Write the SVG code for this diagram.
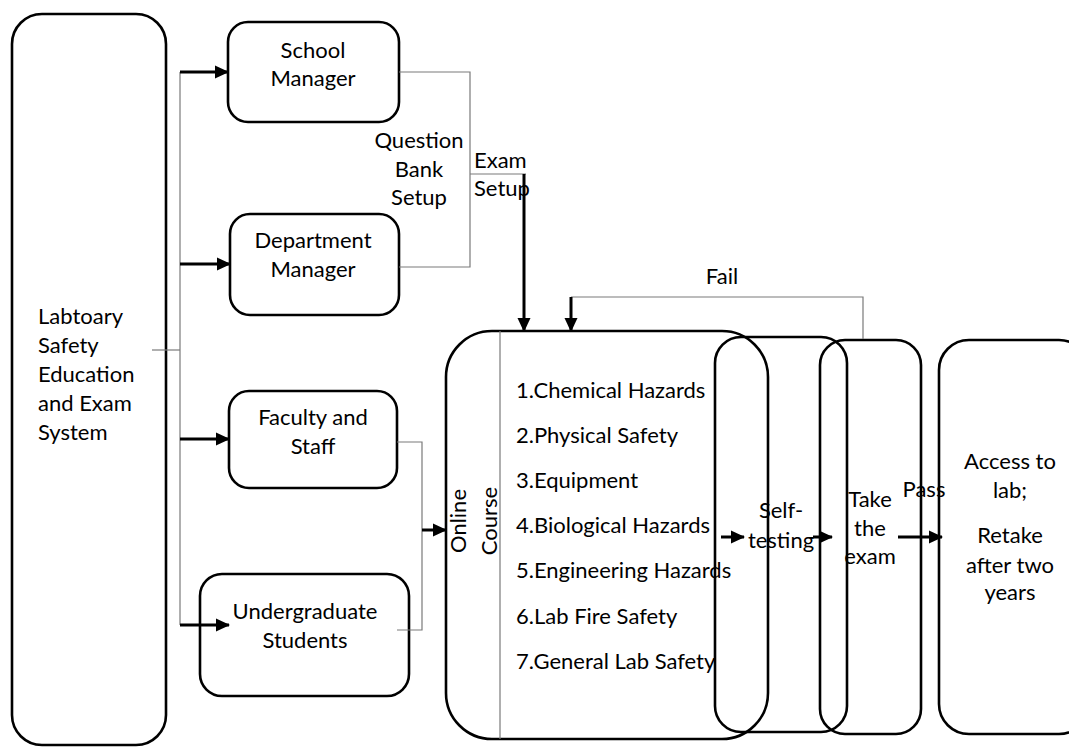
<svg xmlns="http://www.w3.org/2000/svg" width="1069" height="747" viewBox="0 0 1069 747">
<style>
text{font-family:Lato,"Open Sans","Liberation Sans",sans-serif;font-size:22px;fill:#000}
.c{text-anchor:middle}
.box{fill:none;stroke:#000;stroke-width:2.6}
.g{fill:none;stroke:#7a7a7a;stroke-width:1.2}
.a{fill:none;stroke:#000;stroke-width:3}
</style>
<defs>
<marker id="ah" markerUnits="userSpaceOnUse" markerWidth="14" markerHeight="14" refX="13" refY="7" orient="auto">
<path d="M0,0.5 L14,7 L0,13.5 z" fill="#000"/>
</marker>
</defs>
<rect width="1069" height="747" fill="#fff"/>
<g id="system">
<rect class="box" x="12" y="14" width="154" height="731" rx="30"/>
<text x="38" y="324">Labtoary</text>
<text x="38" y="353">Safety</text>
<text x="38" y="382">Education</text>
<text x="38" y="411">and Exam</text>
<text x="38" y="440">System</text>
</g>
<g id="school-manager">
<rect class="box" x="228" y="22" width="171" height="100" rx="20"/>
<text class="c" x="313" y="58">School</text>
<text class="c" x="313" y="86">Manager</text>
</g>
<g id="department-manager">
<rect class="box" x="230" y="214" width="169" height="101" rx="20"/>
<text class="c" x="313" y="248">Department</text>
<text class="c" x="313" y="277">Manager</text>
</g>
<g id="faculty">
<rect class="box" x="229" y="391" width="168" height="97" rx="20"/>
<text class="c" x="313" y="425">Faculty and</text>
<text class="c" x="313" y="454">Staff</text>
</g>
<g id="undergrad">
<rect class="box" x="200" y="574" width="209" height="122" rx="22"/>
<text class="c" x="305" y="619">Undergraduate</text>
<text class="c" x="305" y="648">Students</text>
</g>
<g id="online-course">
<rect class="box" x="446" y="331" width="322" height="408" rx="46"/>
<line class="g" x1="500" y1="331" x2="500" y2="739"/>
<text class="c" transform="translate(466,521) rotate(-90)">Online</text>
<text class="c" transform="translate(497,521) rotate(-90)">Course</text>
<text x="516" y="398">1.Chemical Hazards</text>
<text x="516" y="443">2.Physical Safety</text>
<text x="516" y="488">3.Equipment</text>
<text x="516" y="533">4.Biological Hazards</text>
<text x="516" y="578">5.Engineering Hazards</text>
<text x="516" y="624">6.Lab Fire Safety</text>
<text x="516" y="669">7.General Lab Safety</text>
</g>
<g id="self-testing">
<rect class="box" x="715" y="337" width="132" height="395" rx="26"/>
<text class="c" x="781" y="518">Self-</text>
<text class="c" x="781" y="548">testing</text>
</g>
<g id="take-exam">
<rect class="box" x="820" y="340" width="101" height="394" rx="25"/>
<text class="c" x="870" y="507">Take</text>
<text class="c" x="870" y="536">the</text>
<text class="c" x="870" y="564">exam</text>
</g>
<g id="access">
<rect class="box" x="939" y="340" width="150" height="394" rx="30"/>
<text class="c" x="1010" y="469">Access to</text>
<text class="c" x="1010" y="498">lab;</text>
<text class="c" x="1010" y="543">Retake</text>
<text class="c" x="1010" y="573">after two</text>
<text class="c" x="1010" y="600">years</text>
</g>
<g id="connectors">
<polyline class="g" points="152,350 180,350"/>
<line class="g" x1="180" y1="72" x2="180" y2="625"/>
<line class="a" x1="180" y1="72" x2="228" y2="72" marker-end="url(#ah)"/>
<line class="a" x1="180" y1="264" x2="230" y2="264" marker-end="url(#ah)"/>
<line class="a" x1="180" y1="439" x2="229" y2="439" marker-end="url(#ah)"/>
<line class="a" x1="180" y1="625" x2="229" y2="625" marker-end="url(#ah)"/>
<polyline class="g" points="399,72 470,72 470,267 399,267"/>
<polyline class="g" points="470,174 526,174"/>
<line class="a" x1="524" y1="174" x2="524" y2="331" marker-end="url(#ah)"/>
<polyline class="g" points="571,297 863,297 863,339"/>
<line class="a" x1="571" y1="297" x2="571" y2="331" marker-end="url(#ah)"/>
<polyline class="g" points="397,442 422,442 422,630 397,630"/>
<line class="a" x1="422" y1="530" x2="446" y2="530" marker-end="url(#ah)"/>
<line class="a" x1="721" y1="537" x2="744" y2="537" marker-end="url(#ah)"/>
<line class="a" x1="813" y1="537" x2="832" y2="537" marker-end="url(#ah)"/>
<line class="a" x1="898" y1="537" x2="942" y2="537" marker-end="url(#ah)"/>
<text class="c" x="419" y="148">Question</text>
<text class="c" x="419" y="177">Bank</text>
<text class="c" x="419" y="205">Setup</text>
<text x="474" y="168">Exam</text>
<text x="474" y="196">Setup</text>
<text class="c" x="722" y="284">Fail</text>
<text class="c" x="924" y="497">Pass</text>
</g>
</svg>
